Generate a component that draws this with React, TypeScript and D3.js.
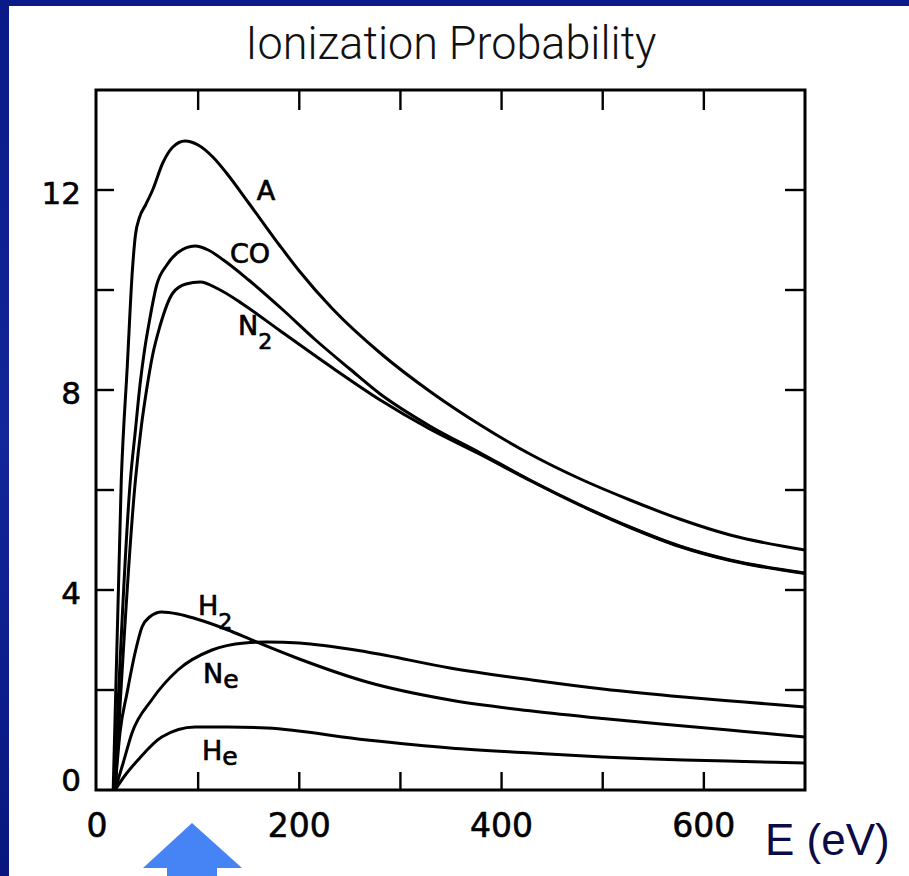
import React from "react";
import * as d3 from "d3";

// ---------- data ----------
const xTicks = [0, 100, 200, 300, 400, 500, 600, 700];
const xTickLabels = [0, 200, 400, 600];
const yTicks = [0, 2, 4, 6, 8, 10, 12, 14];
const yTickLabels = [0, 4, 8, 12];

const eA = [16, 24, 30, 35, 38, 42, 48, 55, 65, 75, 87, 100, 115, 128, 150, 181, 200, 233, 280, 330, 379, 428, 478, 527, 576, 626, 700];
const vA = [0, 6.2, 8.5, 10.4, 11.1, 11.45, 11.7, 12.0, 12.54, 12.86, 12.98, 12.9, 12.65, 12.34, 11.74, 10.88, 10.38, 9.62, 8.74, 7.96, 7.3, 6.72, 6.22, 5.8, 5.42, 5.1, 4.8];

const eCO = [17, 33, 38, 42.5, 47, 52, 59, 69, 80, 97, 110, 125, 150, 184, 215, 250, 280, 329, 379, 428, 478, 527, 576, 626, 700];
const vCO = [0, 6.2, 7.2, 8.1, 8.8, 9.4, 10.1, 10.5, 10.75, 10.88, 10.8, 10.6, 10.2, 9.6, 9.02, 8.42, 7.92, 7.28, 6.74, 6.2, 5.7, 5.26, 4.88, 4.6, 4.34];

const eN2 = [18, 38, 44, 49, 55, 62, 75, 88, 102, 120, 144, 180, 233, 280, 329, 379, 428, 478, 527, 576, 626, 700];
const vN2 = [0, 6.2, 7.3, 8.0, 8.7, 9.26, 9.94, 10.12, 10.16, 10.02, 9.72, 9.2, 8.44, 7.8, 7.22, 6.71, 6.19, 5.69, 5.25, 4.87, 4.59, 4.33];

const eH2 = [17.8, 22.7, 29.7, 37.6, 44.5, 52, 64, 80, 97, 129.5, 153, 200, 267, 349, 430, 500, 580, 640, 700];
const vH2 = [0, 1.14, 1.94, 2.74, 3.26, 3.46, 3.56, 3.52, 3.43, 3.2, 3.0, 2.62, 2.16, 1.8, 1.58, 1.43, 1.28, 1.17, 1.06];

const eNe = [17.8, 26, 34.6, 54, 80, 113.7, 146, 168, 200, 267, 349, 430, 500, 580, 640, 700];
const vNe = [0, 0.55, 1.14, 1.8, 2.4, 2.8, 2.94, 2.96, 2.94, 2.76, 2.44, 2.2, 2.02, 1.86, 1.76, 1.66];

const eHe = [17.8, 28, 40.5, 64, 97, 129.5, 168, 267, 349, 430, 500, 580, 640, 700];
const vHe = [0, 0.3, 0.6, 1.06, 1.26, 1.26, 1.24, 1.0, 0.84, 0.74, 0.66, 0.6, 0.57, 0.54];

const seriesList = [
  { name: "A", e: eA, v: vA },
  { name: "CO", e: eCO, v: vCO },
  { name: "N2", e: eN2, v: vN2 },
  { name: "H2", e: eH2, v: vH2 },
  { name: "Ne", e: eNe, v: vNe },
  { name: "He", e: eHe, v: vHe },
];

// label anchors in data coordinates: [main, sub, E, value]
const curveLabels: [string, string, number, number][] = [
  ["A", "", 158, 11.8],
  ["CO", "", 131.5, 10.54],
  ["N", "2", 139.4, 9.1],
  ["H", "2", 99.9, 3.5],
  ["N", "e", 104.8, 2.14],
  ["H", "e", 103.8, 0.6],
];

const title = "Ionization Probability";
const xAxisTitle = "E (eV)";

// ---------- layout ----------
const W = 909;
const H = 876;
const left = 96;
const right = 805;
const top = 90;
const bottom = 790;

export default function App() {
  const x = d3.scaleLinear().domain([0, 700]).range([97, right]);
  const y = d3.scaleLinear().domain([0, 14]).range([bottom, top]);
  const line = d3
    .line<[number, number]>()
    .x((d) => x(d[0]))
    .y((d) => y(d[1]))
    .curve(d3.curveMonotoneX);

  const tickLen = 18;
  const digitFont = "'DejaVu Sans', sans-serif";

  return (
    <svg
      width={W}
      height={H}
      style={{ position: "absolute", left: 0, top: 0, display: "block" }}
    >
      <defs>
        <linearGradient id="bg" x1="0" y1="0" x2="0" y2="1">
          <stop offset="0" stopColor="#0a1a86" />
          <stop offset="0.5" stopColor="#13269a" />
          <stop offset="1" stopColor="#08167e" />
        </linearGradient>
      </defs>
      <rect x={0} y={0} width={W} height={H} fill="url(#bg)" />
      <rect x={9} y={6} width={W - 9} height={H - 6} fill="#ffffff" />

      {/* title */}
      <text
        x={451}
        y={59}
        textAnchor="middle"
        fontFamily="Roboto, 'Liberation Sans', sans-serif"
        fontWeight={300}
        fontSize={47}
        fill="#111"
        textLength={411}
        lengthAdjust="spacingAndGlyphs"
      >
        {title}
      </text>

      {/* frame */}
      <rect
        x={left}
        y={top}
        width={right - left}
        height={bottom - top}
        fill="none"
        stroke="#000"
        strokeWidth={3}
      />

      {/* x ticks top & bottom */}
      {xTicks.slice(1, -1).map((t) => (
        <g key={"xt" + t}>
          <line x1={x(t)} x2={x(t)} y1={bottom} y2={bottom - tickLen} stroke="#000" strokeWidth={2.4} />
          <line x1={x(t)} x2={x(t)} y1={top} y2={top + tickLen + 2} stroke="#000" strokeWidth={2.4} />
        </g>
      ))}
      {/* y ticks left & right */}
      {yTicks.slice(1, -1).map((t) => (
        <g key={"yt" + t}>
          <line x1={left} x2={left + tickLen} y1={y(t)} y2={y(t)} stroke="#000" strokeWidth={2.4} />
          <line x1={right} x2={right - tickLen - 2} y1={y(t)} y2={y(t)} stroke="#000" strokeWidth={2.4} />
        </g>
      ))}

      {/* x tick labels */}
      {xTickLabels.map((t) => (
        <text
          key={"xl" + t}
          x={x(t)}
          y={837}
          textAnchor="middle"
          fontFamily={digitFont}
          fontSize={33}
          fill="#000"
          stroke="#000"
          strokeWidth={0.6}
        >
          {t}
        </text>
      ))}
      {/* y tick labels */}
      {yTickLabels.map((t) => (
        <text
          key={"yl" + t}
          x={81}
          y={y(t) + (t === 0 ? -10 : 3)}
          textAnchor="end"
          dominantBaseline="central"
          fontFamily={digitFont}
          fontSize={31}
          fill="#000"
          stroke="#000"
          strokeWidth={0.6}
        >
          {t}
        </text>
      ))}

      {/* curves */}
      {seriesList.map((s) => (
        <path
          key={s.name}
          d={line(s.e.map((e, i) => [e, s.v[i]] as [number, number])) || ""}
          fill="none"
          stroke="#000"
          strokeWidth={3}
          strokeLinejoin="round"
        />
      ))}

      {/* curve labels */}
      {curveLabels.map(([main, sub, e, v], i) => (
        <text
          key={"cl" + i}
          x={x(e)}
          y={y(v)}
          fontFamily={digitFont}
          fontSize={27}
          fill="#000"
          stroke="#000"
          strokeWidth={0.7}
        >
          {main}
          {sub && (
            <tspan fontSize={sub === "2" ? 22 : 25} dy={sub === "2" ? 14 : 5}>
              {sub}
            </tspan>
          )}
        </text>
      ))}

      {/* axis title */}
      <text
        x={765}
        y={855}
        fontFamily="'Liberation Sans', Arial, sans-serif"
        fontSize={44}
        fill="#0b0b45"
      >
        {xAxisTitle}
      </text>

      {/* blue arrow */}
      <polygon
        points="192,823 242,868 217,868 217,876 167,876 167,868 143,868"
        fill="#4684f6"
      />
    </svg>
  );
}
